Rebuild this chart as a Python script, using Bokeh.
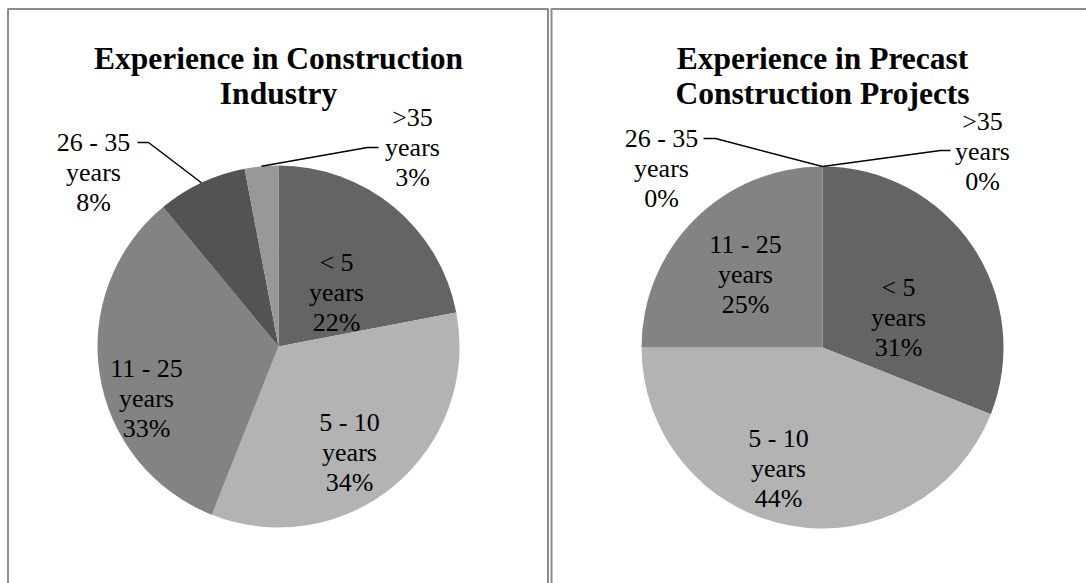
import numpy as np
from bokeh.plotting import figure
from bokeh.models import Range1d, ColumnDataSource
from bokeh.core.properties import value
from bokeh.embed import file_html
from bokeh.resources import INLINE

# ---------------- data ----------------
categories = ["< 5", "5 - 10", "11 - 25", "26 - 35", ">35"]
unit_label = "years"
industry_pct = [22, 34, 33, 8, 3]
precast_pct = [31, 44, 25, 0, 0]
chart_titles = [["Experience in Construction", "Industry"],
                ["Experience in Precast", "Construction Projects"]]

# ---------------- style / layout ----------------
slice_colors = ["#646464", "#b3b3b3", "#838383", "#535353", "#989898"]
FONT = value("Liberation Serif")
W, H = 1086, 583
RADIUS = 181
LINE_GAP = 30

def Y(y):
    return H - y

panels = [
    dict(values=industry_pct, title=chart_titles[0], cx=278, cy=346,
         label_off=[(58, -54), (71, 106), (-132, 52), (-185, -174), (134, -199)],
         leaders={3: [(-130, -204), (-141, -204)], 4: [(89, -199), (100, -199)]}),
    dict(values=precast_pct, title=chart_titles[1], cx=822, cy=347,
         label_off=[(76, -30), (-44, 121), (-77, -73), (-161, -179), (160, -196)],
         leaders={3: [(-107, -209), (-119, -209)], 4: [(118, -197), (128, -197)]}),
]

p = figure(width=W, height=H, x_range=Range1d(0, W), y_range=Range1d(0, H),
           output_backend="svg", toolbar_location=None, min_border=0,
           outline_line_color=None, x_axis_location=None, y_axis_location=None,
           background_fill_color="white", border_fill_color="white")
p.grid.visible = False

# panel frames
p.quad(left=[7.5, 551], right=[547.5, 1100], top=[Y(8.5), Y(8.5)], bottom=[-20, -20],
       fill_color=None, line_color="#8c8c8c", line_width=2)

for pan in panels:
    vals = np.array(pan["values"], dtype=float)
    frac = vals / vals.sum()
    cum = np.concatenate([[0], np.cumsum(frac)])
    start_a = np.pi / 2 - cum[1:] * 2 * np.pi
    end_a = np.pi / 2 - cum[:-1] * 2 * np.pi
    mid_a = (start_a + end_a) / 2
    cx, cy = pan["cx"], pan["cy"]

    keep = vals > 0
    src = ColumnDataSource(dict(start=start_a[keep], end=end_a[keep],
                                color=[c for c, k in zip(slice_colors, keep) if k],
                                x=[cx] * int(keep.sum()), y=[Y(cy)] * int(keep.sum())))
    p.wedge(x="x", y="y", radius=RADIUS, start_angle="start", end_angle="end",
            fill_color="color", line_color=None, source=src)

    # leader lines for small slices
    for idx, pts in pan["leaders"].items():
        ex = cx + RADIUS * np.cos(mid_a[idx])
        ey = Y(cy) + RADIUS * np.sin(mid_a[idx])
        xs = [ex] + [cx + dx for dx, dy in pts]
        ys = [ey] + [Y(cy + dy) for dx, dy in pts]
        p.line(xs, ys, line_color="black", line_width=1.5)

    # data labels
    lx, ly, lt = [], [], []
    for i, cat in enumerate(categories):
        dx, dy = pan["label_off"][i]
        lines = [cat, unit_label, f"{int(vals[i])}%"]
        for k, t in enumerate(lines):
            lx.append(cx + dx)
            ly.append(Y(cy + dy + (k - 1) * LINE_GAP))
            lt.append(t)
    p.text(x=lx, y=ly, text=lt, text_align="center", text_baseline="alphabetic",
           text_font=FONT, text_font_size="26px", text_color="black")

    # title
    p.text(x=[cx, cx], y=[Y(58), Y(93)], text=pan["title"], text_align="center",
           text_baseline="alphabetic", text_font=FONT, text_font_size="31.5px",
           text_font_style="bold", text_color="black")

open("out.html", "w").write(file_html(p, INLINE))
